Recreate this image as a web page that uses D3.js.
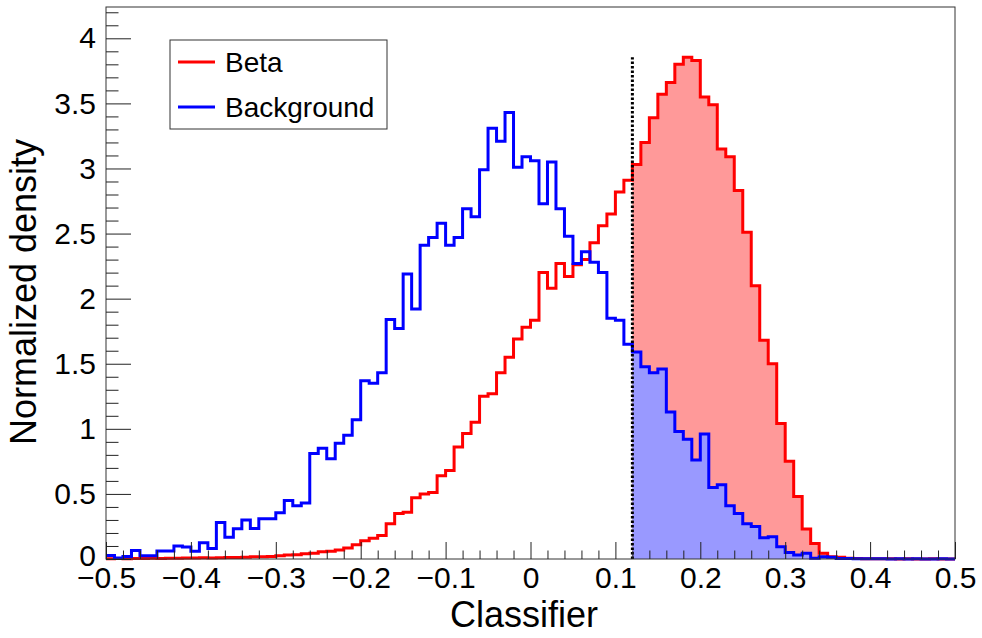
<!DOCTYPE html>
<html>
<head>
<meta charset="utf-8">
<script src="https://cdn.jsdelivr.net/npm/d3@7"></script>
<style>
  html, body { margin: 0; padding: 0; background: #fff; }
  svg text { font-family: "Liberation Sans", Arial, Helvetica, sans-serif; fill: #000; }
</style>
</head>
<body>
<div id="chart"></div>
<script>
// Classifier output histograms (100 bins of 0.01 from -0.5 to 0.5)
const binStart = -0.5;
const binWidth = 0.01;
const cutValue = 0.12;

const seriesNames = ['Beta', 'Background'];
const seriesColors = ['#ff0000', '#0000ff'];
const fillColors = ['#ff9999', '#9999ff'];

const betaDensity = [
  0.002, 0.003, 0.002, 0.004, 0.003, 0.005, 0.004, 0.006, 0.005, 0.007,
  0.008, 0.010, 0.008, 0.010, 0.012, 0.011, 0.014, 0.017, 0.018, 0.020,
  0.025, 0.030, 0.033, 0.040, 0.045, 0.055, 0.060, 0.070, 0.085, 0.110,
  0.140, 0.160, 0.180, 0.270, 0.350, 0.360, 0.470, 0.500, 0.510, 0.640,
  0.680, 0.860, 0.965, 1.050, 1.250, 1.270, 1.430, 1.550, 1.690, 1.780,
  1.835, 2.200, 2.080, 2.270, 2.170, 2.260, 2.300, 2.430, 2.560, 2.650,
  2.820, 2.910, 3.030, 3.200, 3.390, 3.570, 3.660, 3.800, 3.855, 3.830,
  3.550, 3.490, 3.150, 3.090, 2.830, 2.510, 2.100, 1.680, 1.500, 1.040,
  0.750, 0.480, 0.230, 0.120, 0.044, 0.018, 0.013, 0.005, 0.003, 0.002,
  0.001, 0.002, 0.001, 0.000, 0.001, 0.000, 0.000, 0.001, 0.000, 0.000
];

const backgroundDensity = [
  0.026, 0.008, 0.020, 0.065, 0.025, 0.025, 0.062, 0.062, 0.100, 0.092,
  0.060, 0.125, 0.080, 0.280, 0.168, 0.232, 0.300, 0.235, 0.310, 0.310,
  0.356, 0.450, 0.410, 0.430, 0.810, 0.850, 0.770, 0.890, 0.950, 1.070,
  1.370, 1.350, 1.430, 1.840, 1.770, 2.190, 1.920, 2.410, 2.470, 2.580,
  2.410, 2.470, 2.690, 2.630, 2.990, 3.310, 3.210, 3.430, 3.010, 3.090,
  3.060, 2.730, 3.050, 2.690, 2.480, 2.270, 2.360, 2.280, 2.200, 1.850,
  1.835, 1.650, 1.590, 1.476, 1.430, 1.460, 1.130, 0.980, 0.920, 0.760,
  0.960, 0.550, 0.570, 0.410, 0.350, 0.270, 0.250, 0.164, 0.170, 0.094,
  0.050, 0.030, 0.044, 0.005, 0.018, 0.013, 0.004, 0.003, 0.002, 0.001,
  0.002, 0.001, 0.000, 0.001, 0.000, 0.001, 0.000, 0.000, 0.001, 0.000
];

const xMajorTicks = [-0.5, -0.4, -0.3, -0.2, -0.1, 0, 0.1, 0.2, 0.3, 0.4, 0.5];
const yMajorTicks = [0, 0.5, 1, 1.5, 2, 2.5, 3, 3.5, 4];

const xTitle = 'Classifier';
const yTitle = 'Normalized density';

// Layout
const W = 982, H = 638;
const margin = { top: 7, right: 27, bottom: 79, left: 106 };
const yMax = 1.1 * d3.max(betaDensity);

const svg = d3.select('#chart').append('svg')
  .attr('width', W)
  .attr('height', H);

const x = d3.scaleLinear()
  .domain([-0.5, 0.5])
  .range([margin.left, W - margin.right]);

const y = d3.scaleLinear()
  .domain([0, yMax])
  .range([H - margin.bottom, margin.top]);

// turn a density array into step points (left edges + closing right edge)
const toSteps = (vals, from) => {
  const pts = [];
  vals.forEach((v, i) => {
    if (i >= from) pts.push({ x: binStart + i * binWidth, y: v });
  });
  pts.push({ x: binStart + vals.length * binWidth, y: vals[vals.length - 1] });
  return pts;
};

const cutIndex = Math.round((cutValue - binStart) / binWidth);

// Filled region above the cut
const area = d3.area()
  .x(d => x(d.x))
  .y0(y(0))
  .y1(d => y(d.y))
  .curve(d3.curveStepAfter);

[betaDensity, backgroundDensity].forEach((vals, k) => {
  svg.append('path')
    .datum(toSteps(vals, cutIndex))
    .attr('fill', fillColors[k])
    .attr('d', area);
});

// Histogram outlines
const line = d3.line()
  .x(d => x(d.x))
  .y(d => y(d.y))
  .curve(d3.curveStepAfter);

[betaDensity, backgroundDensity].forEach((vals, k) => {
  svg.append('path')
    .datum(toSteps(vals, 0))
    .attr('fill', 'none')
    .attr('stroke', seriesColors[k])
    .attr('stroke-width', 3)
    .attr('stroke-linejoin', 'miter')
    .attr('d', line);
});

// Cut line
svg.append('line')
  .attr('x1', x(cutValue)).attr('x2', x(cutValue))
  .attr('y1', y(0)).attr('y2', y(d3.max(betaDensity)))
  .attr('stroke', '#000')
  .attr('stroke-width', 3)
  .attr('stroke-dasharray', '2.5,2');

// Frame
svg.append('rect')
  .attr('x', x(-0.5)).attr('y', y(yMax))
  .attr('width', x(0.5) - x(-0.5))
  .attr('height', y(0) - y(yMax))
  .attr('fill', 'none')
  .attr('stroke', '#333')
  .attr('stroke-width', 1);

// X axis: ticks pointing inward
const xMinor = d3.range(0, 51).map(i => -0.5 + i * 0.02)
  .filter(v => !xMajorTicks.some(t => Math.abs(t - v) < 1e-9));

svg.append('g')
  .attr('transform', `translate(0,${y(0)})`)
  .call(d3.axisBottom(x).tickValues(xMinor).tickSize(-8.5).tickFormat(''))
  .call(g => g.select('.domain').remove());

svg.append('g')
  .attr('class', 'x-axis')
  .attr('transform', `translate(0,${y(0)})`)
  .call(d3.axisBottom(x).tickValues(xMajorTicks).tickSize(-17).tickPadding(8)
    .tickFormat(d => Math.abs(d) < 1e-9 ? '0' : d3.format('.1f')(d)))
  .call(g => g.select('.domain').remove())
  .call(g => g.selectAll('text').attr('font-size', 30).attr('dy', '0.71em'));

// Y axis
const yMinor = d3.range(0, 43).map(i => i * 0.1)
  .filter(v => v <= yMax && !yMajorTicks.some(t => Math.abs(t - v) < 1e-9));

svg.append('g')
  .attr('transform', `translate(${x(-0.5)},0)`)
  .call(d3.axisLeft(y).tickValues(yMinor).tickSize(-12.5).tickFormat(''))
  .call(g => g.select('.domain').remove());

svg.append('g')
  .attr('transform', `translate(${x(-0.5)},0)`)
  .call(d3.axisLeft(y).tickValues(yMajorTicks).tickSize(-25).tickPadding(10)
    .tickFormat(d3.format('~g')))
  .call(g => g.select('.domain').remove())
  .call(g => g.selectAll('text').attr('font-size', 30))
  // lift the "0" slightly so it clears the x labels
  .call(g => g.selectAll('.tick').filter(d => d === 0).select('text').attr('dy', '0.2em'));

svg.selectAll('.tick line').attr('stroke', '#222');

// Axis titles
svg.append('text')
  .attr('x', 524)
  .attr('y', 627)
  .attr('text-anchor', 'middle')
  .attr('font-size', 36)
  .text(xTitle);

svg.append('text')
  .attr('transform', 'translate(36,292) rotate(-90)')
  .attr('text-anchor', 'middle')
  .attr('font-size', 36)
  .text(yTitle);

// Legend
const legend = svg.append('g').attr('transform', 'translate(170,40)');
legend.append('rect')
  .attr('width', 217).attr('height', 89)
  .attr('fill', '#fff')
  .attr('stroke', '#333')
  .attr('stroke-width', 1);

seriesNames.forEach((name, k) => {
  const ly = 22 + k * 45;
  legend.append('line')
    .attr('x1', 8).attr('x2', 45)
    .attr('y1', ly).attr('y2', ly)
    .attr('stroke', seriesColors[k])
    .attr('stroke-width', 3);
  legend.append('text')
    .attr('x', 55)
    .attr('y', ly + 10)
    .attr('font-size', 28)
    .text(name);
});
</script>
</body>
</html>
